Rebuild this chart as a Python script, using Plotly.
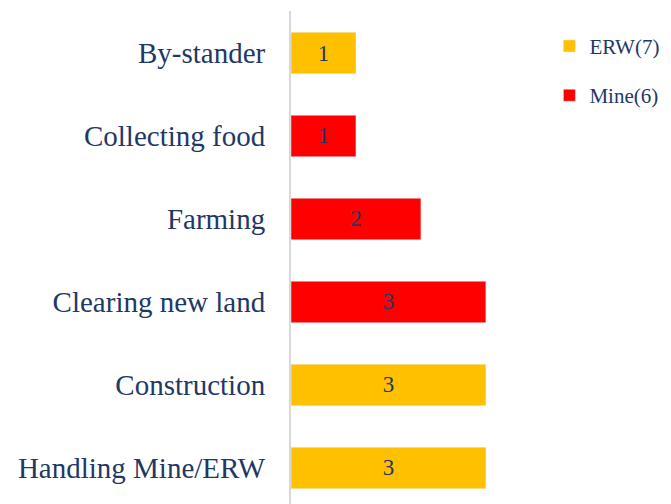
import plotly.graph_objects as go

# categories top to bottom
activities = ["By-stander", "Collecting food", "Farming", "Clearing new land",
              "Construction", "Handling Mine/ERW"]
erw_counts = [1, None, None, None, 3, 3]
mine_counts = [None, 1, 2, 3, None, None]

navy = "#1F3864"
serif = "Liberation Serif, Times New Roman, serif"

fig = go.Figure()
fig.add_trace(go.Bar(y=activities, x=erw_counts, orientation="h", name="ERW(7)",
                     marker_color="#FFC000", width=0.5, legendgroup="erw",
                     text=erw_counts, textposition="inside", insidetextanchor="middle",
                     textfont=dict(color=navy, size=23, family=serif)))
fig.add_trace(go.Bar(y=activities, x=mine_counts, orientation="h", name="Mine(6)",
                     marker_color="#FF0000", width=0.5, legendgroup="mine",
                     text=mine_counts, textposition="inside", insidetextanchor="middle",
                     textfont=dict(color=navy, size=23, family=serif)))

# page body adds ~8px offset, so the figure is drawn slightly smaller
fig.update_layout(
    width=663, height=496,
    margin=dict(l=283, r=0, t=3, b=0, autoexpand=False),
    barmode="relative",
    plot_bgcolor="white", paper_bgcolor="white",
    font=dict(family=serif, color=navy),
    showlegend=True,
    legend=dict(x=0.68, y=0.97, xanchor="left", yanchor="top",
                traceorder="grouped", tracegroupgap=19,
                bgcolor="rgba(0,0,0,0)",
                font=dict(size=21, color=navy, family=serif),
                itemwidth=30),
)
fig.update_xaxes(range=[0, 5.85], visible=False)
fig.update_yaxes(categoryorder="array", categoryarray=activities,
                 range=[5.434, -0.506], showline=True, linecolor="#D9D9D9",
                 linewidth=2, ticks="", ticklabelstandoff=18,
                 tickfont=dict(size=29, color=navy, family=serif), showgrid=False)

fig.write_html("out.html")
